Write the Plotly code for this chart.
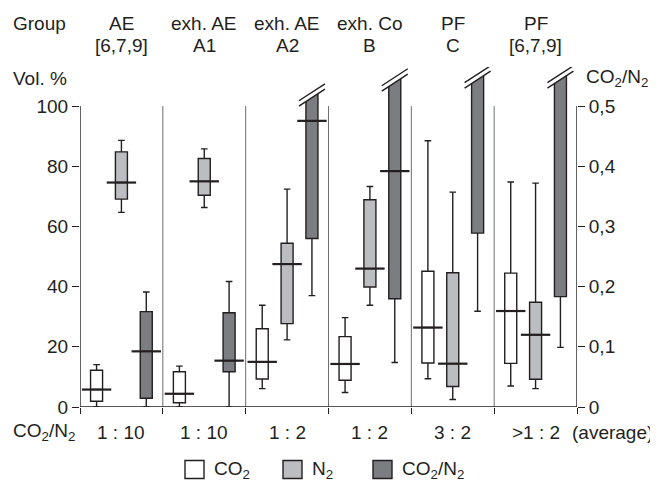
import plotly.graph_objects as go

# ---------------- data ----------------
group_line1 = ["AE", "exh. AE", "exh. AE", "exh. Co", "PF", "PF"]
group_line2 = ["[6,7,9]", "A1", "A2", "B", "C", "[6,7,9]"]
ratio_labels = ["1 : 10", "1 : 10", "1 : 2", "1 : 2", "3 : 2", ">1 : 2"]

# CO2 (Vol. %)
co2_low = [0.0, 0.0, 6.1, 4.8, 9.4, 7.0]
co2_q1 = [1.9, 1.4, 9.3, 8.9, 14.6, 14.5]
co2_med = [5.8, 4.4, 15.0, 14.3, 26.4, 31.9]
co2_q3 = [12.2, 11.7, 26.0, 23.4, 45.1, 44.5]
co2_high = [14.1, 13.6, 33.8, 29.7, 88.5, 74.8]

# N2 (Vol. %)
n2_low = [64.7, 66.3, 22.3, 33.8, 2.5, 6.1]
n2_q1 = [69.1, 70.4, 27.7, 39.9, 6.8, 9.2]
n2_med = [74.6, 75.0, 47.5, 46.0, 14.4, 24.0]
n2_q3 = [84.8, 82.6, 54.4, 68.9, 44.6, 34.8]
n2_high = [88.6, 85.8, 72.4, 73.3, 71.4, 74.4]

# CO2/N2 ratio (right axis); None = off scale (above the axis break)
rat_low = [0.0, 0.0, 0.185, 0.074, 0.159, 0.099]
rat_q1 = [0.0145, 0.0585, 0.280, 0.180, 0.289, 0.1835]
rat_med = [0.0925, 0.077, 0.4755, 0.392, None, None]
rat_q3 = [0.1585, 0.1565, None, None, None, None]
rat_high = [0.191, 0.2085, None, None, None, None]
rat_break = [None, None, 0.5185, 0.5435, 0.5485, 0.5485]

y_ticks = [0, 20, 40, 60, 80, 100]
y2_ticks = [0, 0.1, 0.2, 0.3, 0.4, 0.5]
y2_ticktext = ["0", "0,1", "0,2", "0,3", "0,4", "0,5"]

# ---------------- styling / layout constants ----------------
PAGE = 8                 # default body margin of the html page
W, H = 650, 474
ML, MR, MT, MB = 72, 81, 59, 75
FONT = "Liberation Sans, Arial, sans-serif"
FS = 19
INK = "#231f20"
C_WHITE = "#ffffff"
C_LIGHT = "#bcbdc1"
C_DARK = "#7c7d81"
OFF = 0.3
BOXW = 0.145

n = len(group_line1)
groups = list(range(n))


def px_x(px):
    # screenshot pixel -> paper fraction
    return (px - PAGE - ML) / (W - ML - MR)


def px_y(py):
    return (H - MB - (py - PAGE)) / (H - MT - MB)


# values used for plotting the truncated ratio boxes
rat_q3_plot, rat_high_plot, rat_med_plot = [], [], []
for i in groups:
    q3 = rat_q3[i] if rat_q3[i] is not None else rat_break[i] + 0.007
    hi = rat_high[i] if rat_high[i] is not None else q3
    md = rat_med[i] if rat_med[i] is not None else q3
    rat_q3_plot.append(q3)
    rat_high_plot.append(hi)
    rat_med_plot.append(md)

fig = go.Figure()


def add_box(name, xs, lo, q1, md, q3, hi, color, yaxis):
    fig.add_trace(go.Box(
        name=name, x=xs, lowerfence=lo, q1=q1, median=md, q3=q3, upperfence=hi,
        width=BOXW, whiskerwidth=0.55, fillcolor=color,
        line=dict(color=INK, width=1.4), boxpoints=False,
        showlegend=False, hoverinfo="skip", yaxis=yaxis,
    ))


x_co2 = [g - OFF for g in groups]
x_n2 = [g for g in groups]
x_rat = [g + OFF for g in groups]

add_box("CO2", x_co2, co2_low, co2_q1, co2_med, co2_q3, co2_high, C_WHITE, "y")
add_box("N2", x_n2, n2_low, n2_q1, n2_med, n2_q3, n2_high, C_LIGHT, "y")
add_box("CO2/N2", x_rat, rat_low, rat_q1, rat_med_plot, rat_q3_plot, rat_high_plot, C_DARK, "y2")

# extended median bars
med_marker = dict(symbol="line-ew", size=21, line=dict(color=INK, width=2.2))
fig.add_trace(go.Scatter(x=x_co2, y=co2_med, mode="markers", marker=med_marker,
                         showlegend=False, hoverinfo="skip", yaxis="y"))
fig.add_trace(go.Scatter(x=x_n2, y=n2_med, mode="markers", marker=med_marker,
                         showlegend=False, hoverinfo="skip", yaxis="y"))
fig.add_trace(go.Scatter(x=x_rat, y=rat_med, mode="markers", marker=med_marker,
                         showlegend=False, hoverinfo="skip", yaxis="y2"))

shapes = []
# axis lines
shapes.append(dict(type="line", xref="x", yref="y", x0=-0.5, x1=-0.5, y0=0, y1=100,
                   line=dict(color=INK, width=1.4)))
shapes.append(dict(type="line", xref="x", yref="y", x0=n - 0.5, x1=n - 0.5, y0=0, y1=100,
                   line=dict(color=INK, width=1.4)))
shapes.append(dict(type="line", xref="x", yref="y", x0=-0.5, x1=n - 0.5, y0=0, y1=0,
                   line=dict(color=INK, width=1.4)))
# group dividers
for k in range(1, n):
    shapes.append(dict(type="line", xref="x", yref="y", x0=k - 0.5, x1=k - 0.5, y0=0, y1=100,
                       line=dict(color="#6d6e71", width=1), layer="below"))

# axis-break marks on off-scale ratio boxes
dx = 0.157
dy = 0.0141
g = 0.0045
for i in groups:
    b = rat_break[i]
    if b is None:
        continue
    xc = x_rat[i]
    top = min(b + 0.05, 0.564)
    path = (f"M{xc - dx},{b - g - dy} L{xc + dx},{b - g + dy} "
            f"L{xc + dx},{top} L{xc - dx},{top} Z")
    shapes.append(dict(type="path", xref="x", yref="y2", path=path,
                       fillcolor="white", line=dict(width=0), layer="above"))
    for s in (-g, g):
        shapes.append(dict(type="line", xref="x", yref="y2",
                           x0=xc - dx, y0=b + s - dy, x1=xc + dx, y1=b + s + dy,
                           line=dict(color=INK, width=1.4), layer="above"))

# legend (manual)
leg_items = [("CO<sub>2</sub>", C_WHITE, 185), ("N<sub>2</sub>", C_LIGHT, 283),
             ("CO<sub>2</sub>/N<sub>2</sub>", C_DARK, 373)]
annotations = []
for label, col, px in leg_items:
    shapes.append(dict(type="rect", xref="paper", yref="paper",
                       x0=px_x(px), x1=px_x(px + 19), y0=px_y(478.5), y1=px_y(460.5),
                       fillcolor=col, line=dict(color=INK, width=1.4)))
    annotations.append(dict(text=label, xref="paper", yref="paper", x=px_x(px + 27),
                            y=px_y(469.5), xanchor="left", yanchor="middle",
                            showarrow=False, font=dict(size=FS, color=INK, family=FONT)))


def note(text, x, y, xref="paper", xanchor="center"):
    annotations.append(dict(text=text, xref=xref, yref="paper", x=x, y=y,
                            xanchor=xanchor, yanchor="middle", showarrow=False,
                            font=dict(size=FS, color=INK, family=FONT)))


note("Group", px_x(11), px_y(23), xanchor="left")
note("Vol. %", px_x(11), px_y(78), xanchor="left")
note("CO<sub>2</sub>/N<sub>2</sub>", px_x(584), px_y(78), xanchor="left")
note("CO<sub>2</sub>/N<sub>2</sub>", px_x(11), px_y(432), xanchor="left")
note("(average)", px_x(655), px_y(432), xanchor="right")
for i in groups:
    note(group_line1[i], i, px_y(23), xref="x")
    note(group_line2[i], i, px_y(45), xref="x")
    note(ratio_labels[i], i, px_y(432), xref="x")

fig.update_layout(
    width=W, height=H, autosize=False,
    margin=dict(l=ML, r=MR, t=MT, b=MB),
    paper_bgcolor="white", plot_bgcolor="white",
    font=dict(family=FONT, size=FS, color=INK),
    showlegend=False,
    xaxis=dict(range=[-0.5, n - 0.5], tickvals=[k - 0.5 for k in range(n + 1)],
               ticks="outside", ticklen=6, tickwidth=1.2, tickcolor=INK,
               showticklabels=False, showgrid=False, zeroline=False, showline=False,
               fixedrange=True),
    yaxis=dict(range=[0, 113], tickvals=y_ticks, ticks="outside", ticklen=7,
               tickwidth=1.2, tickcolor=INK, showgrid=False, zeroline=False,
               showline=False, tickfont=dict(size=FS, color=INK, family=FONT)),
    yaxis2=dict(range=[0, 0.565], overlaying="y", side="right", tickvals=y2_ticks,
                ticktext=y2_ticktext, ticks="outside", ticklen=7, tickwidth=1.2,
                tickcolor=INK, showgrid=False, zeroline=False, showline=False,
                tickfont=dict(size=FS, color=INK, family=FONT)),
    shapes=shapes,
    annotations=annotations,
)

fig.write_html("out.html")
